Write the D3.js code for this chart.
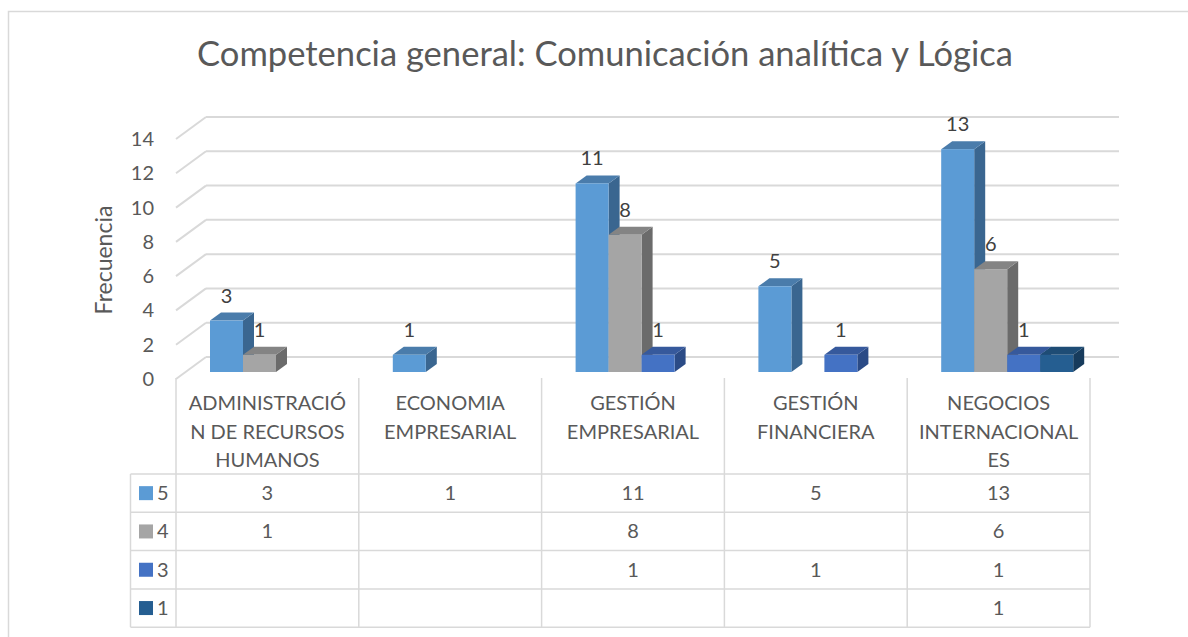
<!DOCTYPE html>
<html>
<head>
<meta charset="utf-8">
<script src="https://cdn.jsdelivr.net/npm/d3@7"></script>
<style>
  html, body { margin: 0; padding: 0; background: #ffffff; }
  svg { display: block; }
  text { font-family: Lato, "Open Sans", "Noto Sans", sans-serif; }
</style>
</head>
<body>
<svg id="chart" width="1188" height="637"></svg>
<script>
// Chart content
const title = "Competencia general: Comunicación analítica y Lógica";
const yTitle = "Frecuencia";
const categories = [
  "ADMINISTRACIÓN DE RECURSOS HUMANOS",
  "ECONOMIA EMPRESARIAL",
  "GESTIÓN EMPRESARIAL",
  "GESTIÓN FINANCIERA",
  "NEGOCIOS INTERNACIONALES"
];
const categoryLines = [
  ["ADMINISTRACIÓ", "N DE RECURSOS", "HUMANOS"],
  ["ECONOMIA", "EMPRESARIAL"],
  ["GESTIÓN", "EMPRESARIAL"],
  ["GESTIÓN", "FINANCIERA"],
  ["NEGOCIOS", "INTERNACIONAL", "ES"]
];
const seriesNames = ["5", "4", "3", "1"];
const values5 = [3, 1, 11, 5, 13];
const values4 = [1, null, 8, null, 6];
const values3 = [null, null, 1, 1, 1];
const values1 = [null, null, null, null, 1];
const showLabels = [true, true, true, false];   // series "1" carries no data labels
const yTicks = [0, 2, 4, 6, 8, 10, 12, 14];

// Styling
const faceColors = [
  { front: "#5B9BD5", top: "#4A7CAB", side: "#3A6690" },
  { front: "#A5A5A5", top: "#848484", side: "#6B6B6B" },
  { front: "#4472C4", top: "#36599C", side: "#2B4B86" },
  { front: "#255E91", top: "#1E4C75", side: "#173B5C" }
];
const gridColor = "#d9d9d9";
const textColor = "#595959";
const labelColor = "#404040";

const seriesValues = [values5, values4, values3, values1];

const svg = d3.select("#chart");

// Outer chart border
svg.append("rect")
  .attr("x", 8.5).attr("y", 11.5)
  .attr("width", 1200).attr("height", 660)
  .attr("fill", "#ffffff")
  .attr("stroke", gridColor).attr("stroke-width", 1.5);

// Title, sized to its box
const titleText = svg.append("text")
  .attr("x", 605).attr("y", 66)
  .attr("text-anchor", "middle")
  .attr("fill", textColor)
  .attr("font-size", 32)
  .text(title);
{
  const w = titleText.node().getComputedTextLength();
  titleText.attr("font-size", 32 * 816 / w);
}

// Geometry of the 3D plot
const x = d3.scaleBand().domain(categories).range([176, 1090]).padding(0);
const depthX = 30, depthY = -22;          // front floor -> back wall
const barBase = 372;                      // bar front-plane baseline
const unit = (372 - 132) / 14;
const y = d3.scaleLinear().domain([0, 14]).range([barBase, barBase - 14 * unit]);
const frontOffset = 7;                    // front floor sits below the bar plane
const backOffset = -15;                   // back wall sits above the bar plane
const barOffset = 34, barWidth = 33;
const barDepthX = 11, barDepthY = -8;

// Gridlines: back wall + left wall diagonals
const grid = svg.append("g").attr("stroke", gridColor).attr("stroke-width", 2).attr("fill", "none");
const x0 = x.range()[0];
yTicks.forEach(t => {
  const yb = y(t) + backOffset;
  const yf = y(t) + frontOffset;
  grid.append("line")
    .attr("x1", x0 + depthX).attr("x2", 1119)
    .attr("y1", yb).attr("y2", yb);
  grid.append("line")
    .attr("x1", x0).attr("y1", yf)
    .attr("x2", x0 + depthX).attr("y2", yb);
});

// Y tick labels
svg.append("g").selectAll("text").data(yTicks).join("text")
  .attr("x", 154)
  .attr("y", d => y(d) + frontOffset)
  .attr("dy", "0.35em")
  .attr("text-anchor", "end")
  .attr("font-size", 20)
  .attr("fill", textColor)
  .text(d => d);

// Y axis title
svg.append("text")
  .attr("transform", "translate(112,260) rotate(-90)")
  .attr("text-anchor", "middle")
  .attr("font-size", 23)
  .attr("fill", textColor)
  .text(yTitle);

// Bars: front, top and right side faces
const bars = [];
categories.forEach((c, ci) => {
  seriesValues.forEach((vals, si) => {
    const v = vals[ci];
    if (v == null) return;
    bars.push({ c, si, v });
  });
});

const barG = svg.append("g");
bars.forEach(b => {
  const col = faceColors[b.si];
  const left = x(b.c) + barOffset + b.si * barWidth;
  const right = left + barWidth;
  const top = y(b.v);
  const base = y(0);
  const g = barG.append("g");
  g.append("path")
    .attr("d", `M${right},${top}L${right + barDepthX},${top + barDepthY}L${right + barDepthX},${base + barDepthY}L${right},${base}Z`)
    .attr("fill", col.side);
  g.append("path")
    .attr("d", `M${left},${top}L${left + barDepthX},${top + barDepthY}L${right + barDepthX},${top + barDepthY}L${right},${top}Z`)
    .attr("fill", col.top);
  g.append("rect")
    .attr("x", left).attr("y", top)
    .attr("width", barWidth).attr("height", base - top)
    .attr("fill", col.front);
});

// Data labels
svg.append("g").selectAll("text").data(bars.filter(b => showLabels[b.si])).join("text")
  .attr("x", d => x(d.c) + barOffset + d.si * barWidth + barWidth / 2)
  .attr("y", d => y(d.v) - 18)
  .attr("text-anchor", "middle")
  .attr("font-size", 20)
  .attr("fill", labelColor)
  .text(d => d.v);

// Data table
const tableLeft = 130.5, tableTop = 378, headerBottom = 474, rowH = 38.3;
const tableRight = x.range()[1];
const tableBottom = headerBottom + rowH * seriesNames.length;
const tg = svg.append("g").attr("stroke", gridColor).attr("stroke-width", 1.5);

// column separators
const colEdges = categories.map(c => x(c)).concat([tableRight]);
colEdges.forEach(cx => {
  tg.append("line").attr("x1", cx).attr("x2", cx).attr("y1", tableTop).attr("y2", tableBottom);
});
tg.append("line").attr("x1", tableLeft).attr("x2", tableLeft).attr("y1", headerBottom).attr("y2", tableBottom);
// row separators
d3.range(seriesNames.length + 1).forEach(i => {
  const ry = headerBottom + i * rowH;
  tg.append("line").attr("x1", tableLeft).attr("x2", tableRight).attr("y1", ry).attr("y2", ry);
});

// category headers
categories.forEach((c, ci) => {
  const t = svg.append("text")
    .attr("text-anchor", "middle")
    .attr("font-size", 20)
    .attr("fill", textColor);
  categoryLines[ci].forEach((line, li) => {
    t.append("tspan")
      .attr("x", x(c) + x.bandwidth() / 2)
      .attr("y", 410 + li * 28.5)
      .text(line);
  });
});

// legend keys and values
seriesNames.forEach((name, si) => {
  const cy = headerBottom + si * rowH + rowH / 2;
  svg.append("rect")
    .attr("x", 139).attr("y", cy - 7)
    .attr("width", 14).attr("height", 14)
    .attr("fill", faceColors[si].front);
  svg.append("text")
    .attr("x", 157).attr("y", cy)
    .attr("dy", "0.35em")
    .attr("font-size", 20)
    .attr("fill", textColor)
    .text(name);
  categories.forEach((c, ci) => {
    const v = seriesValues[si][ci];
    if (v == null) return;
    svg.append("text")
      .attr("x", x(c) + x.bandwidth() / 2)
      .attr("y", cy)
      .attr("dy", "0.35em")
      .attr("text-anchor", "middle")
      .attr("font-size", 20)
      .attr("fill", textColor)
      .text(v);
  });
});
</script>
</body>
</html>
